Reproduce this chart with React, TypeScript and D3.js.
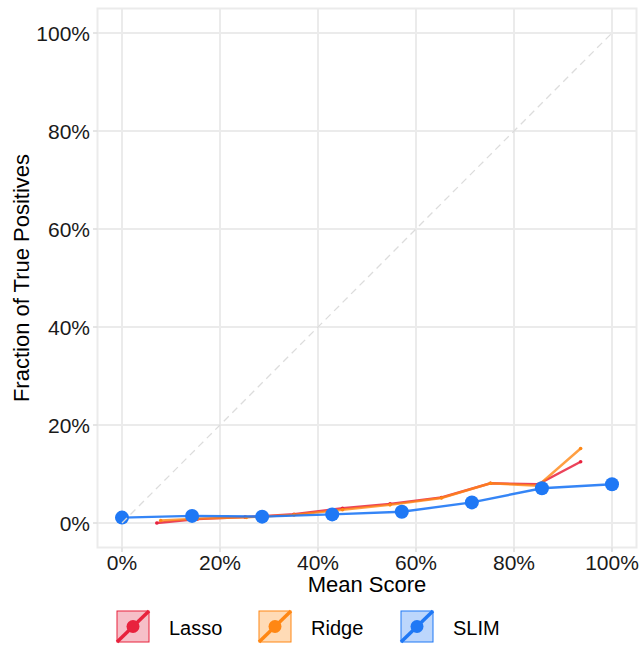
import React from "react";
import * as d3 from "d3";

const seriesNames = ["Lasso", "Ridge", "SLIM"];
const seriesColors = ["#e8223d", "#ff8714", "#1f78f5"];
const seriesFills = ["#f6bfc8", "#ffdbb6", "#bcd6fc"];

const lassoX = [0.071, 0.154, 0.251, 0.351, 0.45, 0.547, 0.652, 0.752, 0.849, 0.936];
const lassoY = [0.0, 0.008, 0.012, 0.018, 0.03, 0.039, 0.052, 0.081, 0.079, 0.125];
const ridgeX = [0.079, 0.154, 0.254, 0.351, 0.45, 0.547, 0.652, 0.752, 0.849, 0.936];
const ridgeY = [0.005, 0.009, 0.0115, 0.0165, 0.027, 0.037, 0.051, 0.081, 0.076, 0.152];
const slimX = [0, 0.143, 0.286, 0.429, 0.571, 0.714, 0.857, 1.0];
const slimY = [0.011, 0.0145, 0.013, 0.0175, 0.023, 0.042, 0.071, 0.079];

const ticks = [0, 0.2, 0.4, 0.6, 0.8, 1.0];
const tickLabels = ["0%", "20%", "40%", "60%", "80%", "100%"];

const xTitle = "Mean Score";
const yTitle = "Fraction of True Positives";

export default function App() {
  const W = 640, H = 645;
  const x = d3.scaleLinear().domain([-0.05, 1.05]).range([97.5, 636.5]);
  const y = d3.scaleLinear().domain([-0.05, 1.05]).range([547.5, 8.5]);
  const grid = "#ebebeb";
  const font = "'Liberation Sans', Arial, Helvetica, sans-serif";

  const line = d3
    .line<[number, number]>()
    .x((d) => x(d[0]))
    .y((d) => y(d[1]));

  const zipped = (xs: number[], ys: number[]) => xs.map((v, i) => [v, ys[i]] as [number, number]);
  const lasso = zipped(lassoX, lassoY);
  const ridge = zipped(ridgeX, ridgeY);
  const slim = zipped(slimX, slimY);

  const legendX = [117, 259, 401];

  return (
    <svg width={W} height={H} style={{ position: "absolute", left: 0, top: 0 }} fontFamily={font}>
      <rect x={0} y={0} width={W} height={H} fill="#ffffff" />
      {ticks.map((t) => (
        <g key={"g" + t}>
          <line x1={x(t)} x2={x(t)} y1={y(-0.05)} y2={y(1.05)} stroke={grid} strokeWidth={2} />
          <line x1={x(-0.05)} x2={x(1.05)} y1={y(t)} y2={y(t)} stroke={grid} strokeWidth={2} />
        </g>
      ))}
      <rect
        x={x(-0.05)}
        y={y(1.05)}
        width={x(1.05) - x(-0.05)}
        height={y(-0.05) - y(1.05)}
        fill="none"
        stroke={grid}
        strokeWidth={2}
      />
      {ticks.map((t, i) => (
        <g key={"t" + t}>
          <line x1={x(-0.05) - 4.5} x2={x(-0.05)} y1={y(t)} y2={y(t)} stroke="#dddddd" strokeWidth={1.5} />
          <line x1={x(t)} x2={x(t)} y1={y(-0.05)} y2={y(-0.05) + 4.5} stroke="#dddddd" strokeWidth={1.5} />
          <text x={90} y={y(t)} dy="0.36em" textAnchor="end" fontSize={21} fill="#1a1a1a">
            {tickLabels[i]}
          </text>
          <text x={x(t)} y={570} textAnchor="middle" fontSize={21} fill="#1a1a1a">
            {tickLabels[i]}
          </text>
        </g>
      ))}
      <text x={x(0.5)} y={592} textAnchor="middle" fontSize={22} fill="#000">
        {xTitle}
      </text>
      <text
        transform={`translate(29,${(y(-0.05) + y(1.05)) / 2}) rotate(-90)`}
        textAnchor="middle"
        fontSize={22}
        fill="#000"
      >
        {yTitle}
      </text>
      <path d={line(lasso) || ""} fill="none" stroke={seriesColors[0]} strokeWidth={2.4} strokeOpacity={0.85} />
      {lasso.map((d, i) => (
        <circle key={"l" + i} cx={x(d[0])} cy={y(d[1])} r={1.8} fill={seriesColors[0]} />
      ))}
      <path d={line(ridge) || ""} fill="none" stroke={seriesColors[1]} strokeWidth={2.4} strokeOpacity={0.8} />
      {ridge.map((d, i) => (
        <circle key={"r" + i} cx={x(d[0])} cy={y(d[1])} r={1.8} fill={seriesColors[1]} />
      ))}
      <path d={line(slim) || ""} fill="none" stroke={seriesColors[2]} strokeWidth={2.4} strokeOpacity={0.9} />
      {slim.map((d, i) => (
        <circle key={"s" + i} cx={x(d[0])} cy={y(d[1])} r={7} fill={seriesColors[2]} />
      ))}
      <line
        x1={x(0)}
        y1={y(0)}
        x2={x(1)}
        y2={y(1)}
        stroke="#dcdcdc"
        strokeWidth={1.3}
        strokeDasharray="7,5"
      />
      {seriesNames.map((n, i) => {
        const bx = legendX[i];
        const by = 611;
        const s = 31;
        return (
          <g key={"lg" + n}>
            <rect x={bx} y={by} width={s + 1} height={s} fill={seriesFills[i]} stroke={seriesColors[i]} strokeWidth={1} />
            <line x1={bx} y1={by + s} x2={bx + s + 1} y2={by} stroke={seriesColors[i]} strokeWidth={3.5} />
            <circle cx={bx + (s + 1) / 2} cy={by + s / 2} r={6.5} fill={seriesColors[i]} />
            <text x={bx + 52} y={635} fontSize={20} fill="#000">
              {n}
            </text>
          </g>
        );
      })}
    </svg>
  );
}
